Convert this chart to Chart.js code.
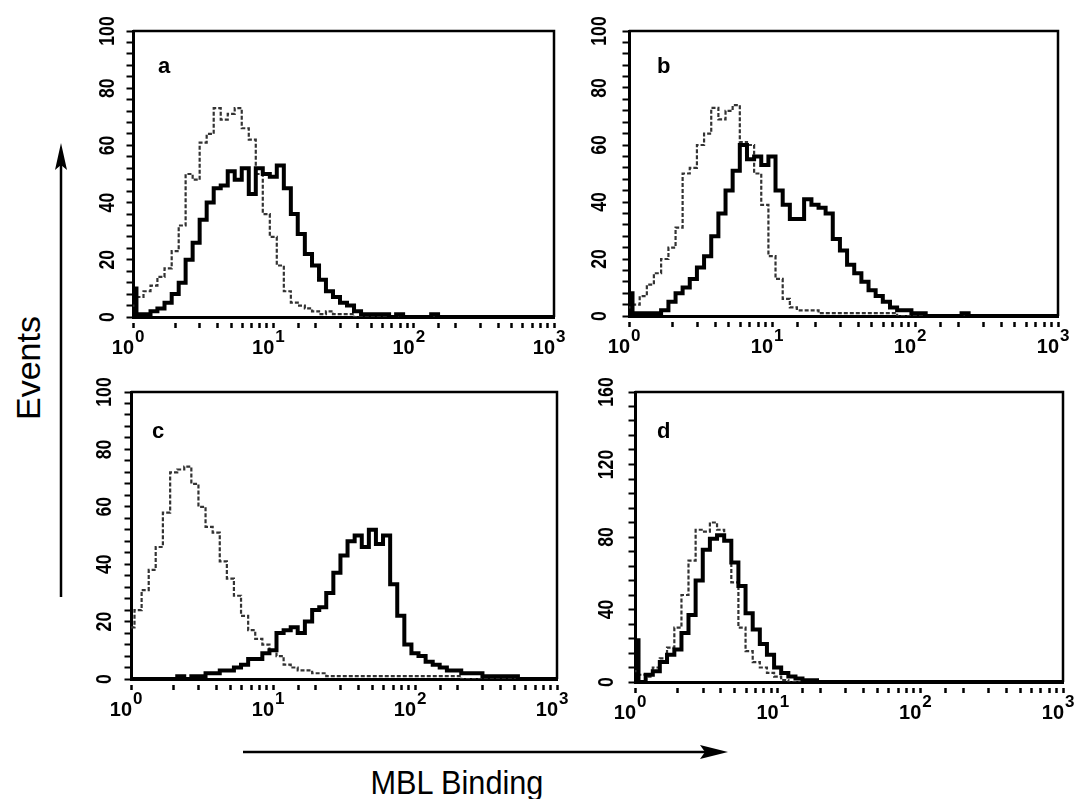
<!DOCTYPE html>
<html>
<head>
<meta charset="utf-8">
<title>MBL binding histograms</title>
<script src="https://cdn.jsdelivr.net/npm/chart.js@4.4.1/dist/chart.umd.min.js"></script>
<style>
  html, body { margin: 0; padding: 0; background: #fff; }
  #page { position: relative; width: 1076px; height: 799px; overflow: hidden;
          font-family: "Liberation Sans", Arial, sans-serif; color: #000; }
  .panel { position: absolute; }
  #events { position: absolute; left: -32px; top: 350px; width: 120px; height: 36px;
            line-height: 36px; text-align: center; font-size: 34px; transform: rotate(-90deg); }
  #mbl { position: absolute; left: 357px; top: 766px; width: 200px; text-align: center;
         font-size: 33px; line-height: 33px; transform: scaleX(0.93); white-space: nowrap; }
  svg { position: absolute; left: 0; top: 0; }
</style>
</head>
<body>
<div id="page">
  <svg width="1076" height="799">
    <line x1="61" y1="597" x2="61" y2="160" stroke="#000" stroke-width="2.5"/>
    <path d="M61,143 L67,170 L61,165 L55,170 Z" fill="#000"/>
    <line x1="243" y1="752" x2="712" y2="752" stroke="#000" stroke-width="2.5"/>
    <path d="M728,752 L700,745 L705,752 L700,759 Z" fill="#000"/>
  </svg>
  <div id="events">Events</div>
  <div id="mbl">MBL Binding</div>
</div>
<script>
// fluorescence channels (log scale, 10^0 .. 10^3)
const channels = [1, 1.12, 1.26, 1.41, 1.58, 1.78, 2, 2.24, 2.51, 2.82,
  3.16, 3.55, 3.98, 4.47, 5.01, 5.62, 6.31, 7.08, 7.94, 8.91,
  10, 11.2, 12.6, 14.1, 15.8, 17.8, 20, 22.4, 25.1, 28.2,
  31.6, 35.5, 39.8, 44.7, 50.1, 56.2, 63.1, 70.8, 79.4, 89.1,
  100, 112, 126, 141, 158, 178, 200, 224, 251, 282,
  316, 355, 398, 447, 501, 562, 631, 708, 794, 891, 1000];

// panel a
const aControl = [4, 7, 9, 11, 14, 17, 23, 32, 50, 48, 61, 64, 73, 69, 71, 73, 66, 62, 50, 36,
  28, 18, 9, 5, 4, 3, 2, 1, 2, 1, 1, 1, 0, 0, 0, 0, 0, 0, 0, 0,
  0, 0, 0, 0, 0, 0, 0, 0, 0, 0, 0, 0, 0, 0, 0, 0, 0, 0, 0, 0, 0];
const aMBL = [10, 1, 1, 2, 3, 5, 8, 12, 20, 26, 34, 40, 45, 46, 51, 48, 52, 43, 52, 50,
  49, 53, 45, 36, 29, 22, 18, 13, 9, 7, 5, 4, 2, 1, 1, 1, 1, 0, 1, 0,
  0, 0, 0, 1, 0, 0, 0, 0, 0, 0, 0, 0, 0, 0, 0, 0, 0, 0, 0, 0, 0];
// panel b
const bControl = [3, 4, 7, 11, 15, 20, 24, 31, 50, 52, 60, 64, 73, 69, 72, 74, 61, 60, 50, 39,
  21, 13, 6, 3, 2, 2, 2, 1, 1, 1, 1, 1, 1, 1, 1, 1, 1, 1, 0, 0,
  0, 0, 0, 0, 0, 0, 0, 0, 0, 0, 0, 0, 0, 0, 0, 0, 0, 0, 0, 0, 0];
const bMBL = [8, 1, 1, 1, 1, 2, 5, 8, 10, 13, 17, 21, 28, 36, 44, 51, 60, 55, 56, 53,
  56, 44, 39, 34, 34, 41, 39, 38, 36, 27, 23, 18, 15, 12, 9, 7, 5, 3, 2, 2,
  1, 1, 0, 0, 0, 0, 0, 1, 0, 0, 0, 0, 0, 0, 0, 0, 0, 0, 0, 0, 0];
// panel c
const cControl = [18, 24, 31, 38, 46, 58, 72, 73, 74, 68, 60, 53, 51, 41, 35, 29, 22, 17, 14, 12,
  10, 8, 5, 4, 3, 3, 2, 2, 1, 1, 1, 1, 1, 1, 1, 1, 1, 1, 1, 1,
  1, 1, 1, 1, 1, 1, 1, 0, 0, 0, 0, 0, 0, 0, 0, 0, 0, 0, 0, 0, 0];
const cMBL = [0, 0, 0, 0, 0, 0, 0, 1, 0, 1, 1, 2, 2, 3, 3, 4, 5, 7, 7, 9,
  10, 16, 17, 18, 16, 20, 24, 25, 30, 37, 43, 48, 50, 46, 52, 47, 50, 33, 22, 12,
  9, 8, 6, 5, 4, 3, 3, 2, 2, 2, 1, 1, 1, 1, 1, 0, 0, 0, 0, 0, 0];
// panel d
const dControl = [6, 4, 3, 8, 13, 19, 30, 48, 67, 84, 83, 88, 84, 78, 55, 30, 17, 11, 8, 5,
  3, 1, 0, 0, 0, 0, 0, 0, 0, 0, 0, 0, 0, 0, 0, 0, 0, 0, 0, 0,
  0, 0, 0, 0, 0, 0, 0, 0, 0, 0, 0, 0, 0, 0, 0, 0, 0, 0, 0, 0, 0];
const dMBL = [23, 0, 4, 6, 11, 15, 18, 27, 37, 56, 73, 79, 81, 78, 66, 53, 38, 29, 21, 15,
  8, 5, 3, 2, 1, 1, 0, 0, 0, 0, 0, 0, 0, 0, 0, 0, 0, 0, 0, 0,
  0, 0, 0, 0, 0, 0, 0, 0, 0, 0, 0, 0, 0, 0, 0, 0, 0, 0, 0, 0, 0];

const xDecades = [1, 10, 100, 1000];
const xExponents = ['0', '1', '2', '3'];
const yTicks100 = [0, 20, 40, 60, 80, 100];
const yTicks160 = [0, 40, 80, 120, 160];

const FONT = '"Liberation Sans", Arial, sans-serif';

// box = plot area [left, top, right, bottom] on the page
const panels = [
  { letter: 'a', box: [133, 31, 554, 317], yMax: 100, yStep: 4, yTicks: yTicks100, yDx: 25, lx: 25, ly: 42, control: aControl, mbl: aMBL },
  { letter: 'b', box: [629, 31, 1058, 316], yMax: 100, yStep: 4, yTicks: yTicks100, yDx: 29, lx: 28, ly: 42, control: bControl, mbl: bMBL },
  { letter: 'c', box: [131, 392, 557, 679], yMax: 100, yStep: 4, yTicks: yTicks100, yDx: 26, lx: 21, ly: 46, control: cControl, mbl: cMBL },
  { letter: 'd', box: [635, 392, 1063, 682], yMax: 160, yStep: 8, yTicks: yTicks160, yDx: 28, lx: 22, ly: 46, control: dControl, mbl: dMBL }
];

const panelDecor = {
  id: 'panelDecor',
  afterDraw(chart, args, opts) {
    const ctx = chart.ctx, a = chart.chartArea;
    const xs = chart.scales.x, ys = chart.scales.y;
    ctx.save();
    // top and right frame
    ctx.strokeStyle = '#000';
    ctx.lineWidth = 2.5;
    ctx.beginPath();
    ctx.moveTo(a.left, a.top);
    ctx.lineTo(a.right, a.top);
    ctx.lineTo(a.right, a.bottom);
    ctx.stroke();

    ctx.fillStyle = '#000';
    ctx.font = 'bold 22px ' + FONT;
    ctx.textAlign = 'left';
    ctx.textBaseline = 'alphabetic';
    ctx.fillText(opts.letter, a.left + opts.lx, a.top + opts.ly);

    // rotated y labels
    opts.yTicks.forEach(v => {
      ctx.save();
      ctx.translate(a.left - opts.yDx, ys.getPixelForValue(v));
      ctx.rotate(-Math.PI / 2);
      ctx.scale(0.8, 1);
      ctx.font = 'bold 22px ' + FONT;
      ctx.textAlign = 'center';
      ctx.textBaseline = 'middle';
      ctx.fillText(String(v), 0, 0);
      ctx.restore();
    });

    // 10^n labels
    xDecades.forEach((v, i) => {
      const x = xs.getPixelForValue(v) + 1;
      ctx.textBaseline = 'alphabetic';
      ctx.font = 'bold 20px ' + FONT;
      ctx.textAlign = 'right';
      ctx.fillText('10', x, a.bottom + 37);
      ctx.font = 'bold 17px ' + FONT;
      ctx.textAlign = 'left';
      ctx.fillText(xExponents[i], x + 1, a.bottom + 25);
    });
    ctx.restore();
  }
};

function toPoints(ys) {
  return channels.map((x, i) => ({ x: x, y: ys[i] }));
}

function makePanel(p) {
  const [l, t, r, b] = p.box;
  const pad = { left: 50, top: 22, right: 12, bottom: 42 };
  const w = (r - l) + pad.left + pad.right;
  const h = (b - t) + pad.top + pad.bottom;
  const div = document.createElement('div');
  div.className = 'panel';
  div.style.left = (l - pad.left) + 'px';
  div.style.top = (t - pad.top) + 'px';
  div.style.width = w + 'px';
  div.style.height = h + 'px';
  const canvas = document.createElement('canvas');
  canvas.width = w;
  canvas.height = h;
  div.appendChild(canvas);
  document.getElementById('page').appendChild(div);

  new Chart(canvas, {
    type: 'line',
    data: {
      datasets: [{
        label: 'MBL',
        data: toPoints(p.mbl),
        borderColor: '#000',
        borderWidth: 4,
        stepped: 'middle',
        pointRadius: 0,
        fill: false
      }, {
        label: 'Control',
        data: toPoints(p.control),
        borderColor: '#333',
        borderWidth: 2.2,
        borderDash: [4, 2],
        stepped: 'middle',
        pointRadius: 0,
        fill: false
      }]
    },
    options: {
      responsive: false,
      animation: false,
      events: [],
      layout: { padding: pad },
      plugins: {
        legend: { display: false },
        tooltip: { enabled: false },
        panelDecor: { letter: p.letter, lx: p.lx, ly: p.ly, yTicks: p.yTicks, yDx: p.yDx }
      },
      scales: {
        x: {
          type: 'logarithmic',
          min: 1,
          max: 1000,
          afterFit: s => { s.height = 0; },
          ticks: { display: false },
          border: { display: true, color: '#000', width: 3 },
          grid: {
            display: true, drawOnChartArea: false, drawTicks: true,
            tickLength: 12, tickWidth: 2.5, tickColor: '#000',
            tickBorderDash: [5, 4], tickBorderDashOffset: 5
          }
        },
        y: {
          type: 'linear',
          min: 0,
          max: p.yMax,
          afterFit: s => { s.width = 0; },
          ticks: { display: false, stepSize: p.yStep },
          border: { display: true, color: '#000', width: 3 },
          grid: {
            display: true, drawOnChartArea: false, drawTicks: true,
            tickLength: 6.5, tickWidth: 2, tickColor: '#000'
          }
        }
      }
    },
    plugins: [panelDecor]
  });
}

panels.forEach(makePanel);
</script>
</body>
</html>
